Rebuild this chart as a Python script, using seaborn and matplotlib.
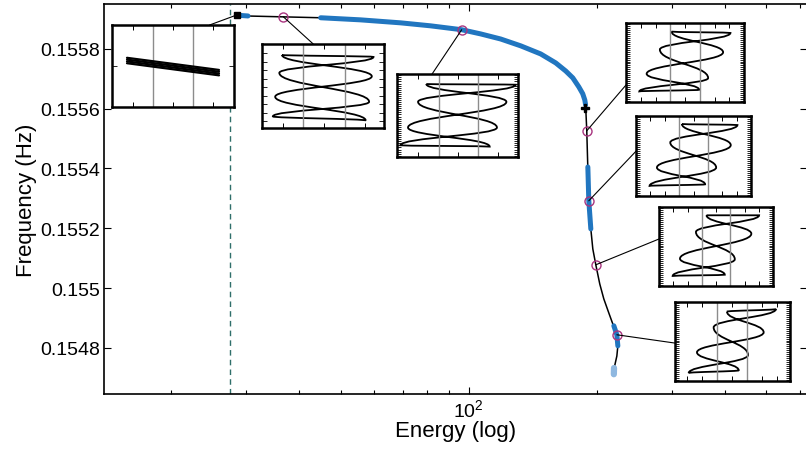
import numpy as np
import pandas as pd
import seaborn as sns
import matplotlib.pyplot as plt
from matplotlib.path import Path
from matplotlib.patches import PathPatch, ConnectionPatch
from matplotlib.ticker import LogLocator, FixedLocator, FixedFormatter, NullFormatter

# backbone branch (energy, frequency)
energy = [28.6, 30.0, 36.7, 44.9, 55.7, 69.2, 81.4, 96.3, 106.7, 118.9, 132.6, 147.7,
          160.2, 169.1, 175.7, 181.5, 185.4, 187.5, 188.5, 189.5, 190.6, 191.6, 193.7,
          195.8, 199.0, 203.3, 207.8, 213.5, 218.2, 223.0, 224.2, 223.0, 220.6, 219.4]
freq = [0.155914, 0.155910, 0.155907, 0.155904, 0.155897, 0.155887, 0.155877, 0.155864,
        0.155850, 0.155833, 0.155810, 0.155783, 0.155753, 0.155726, 0.155703, 0.155673,
        0.155650, 0.155629, 0.155599, 0.155526, 0.155399, 0.155292, 0.155198, 0.155131,
        0.155078, 0.155014, 0.154964, 0.154917, 0.154880, 0.154844, 0.154807, 0.154773,
        0.154743, 0.154720]

# stable pieces (thick blue)
stab1_E = [28.9, 30.3]
stab1_f = [0.155912, 0.155910]
stab2_E = [44.9, 55.7, 69.2, 81.4, 96.3, 106.7, 118.9, 132.6, 147.7, 160.2, 169.1,
           175.7, 181.5, 185.4, 187.5, 188.3]
stab2_f = [0.155904, 0.155897, 0.155887, 0.155877, 0.155864, 0.155850, 0.155833,
           0.155810, 0.155783, 0.155753, 0.155726, 0.155703, 0.155673, 0.155650,
           0.155629, 0.155613]
stab3_E = [190.6, 191.6, 193.7]
stab3_f = [0.155405, 0.155292, 0.155198]
stab4_E = [219.4, 223.0, 224.2]
stab4_f = [0.154874, 0.154844, 0.154807]
end_E = [219.6, 219.4]
end_f = [0.154733, 0.154712]

start_pt = (28.6, 0.155914)
bif_pt = (187.5, 0.155603)
dash_E = 27.5

# marked solutions shown in the insets
mark_E = [36.7, 96.3, 189.5, 191.6, 199.0, 223.0]
mark_f = [0.155907, 0.155864, 0.155526, 0.155292, 0.155078, 0.154844]

ytick_vals = [0.1548, 0.155, 0.1552, 0.1554, 0.1556, 0.1558]
ytick_labels = ['0.1548', '0.155', '0.1552', '0.1554', '0.1556', '0.1558']

# inset orbit turning points (normalised inset coords), in path order
orb2_u = [0.164, 0.914, 0.142, 0.878, 0.089, 0.850, 0.108, 0.900]
orb2_v = [0.870, 0.846, 0.656, 0.312, 0.138, 0.089, 0.372, 0.615]
orb3_u = [0.242, 0.981, 0.174, 0.826, 0.028, 0.766, 0.091, 0.904]
orb3_v = [0.879, 0.871, 0.665, 0.355, 0.141, 0.125, 0.355, 0.665]
orb4_u = [0.386, 0.885, 0.287, 0.696, 0.113, 0.620, 0.175, 0.823]
orb4_v = [0.891, 0.874, 0.664, 0.303, 0.134, 0.155, 0.357, 0.630]
orb5_u = [0.399, 0.882, 0.298, 0.697, 0.118, 0.601, 0.182, 0.824]
orb5_v = [0.900, 0.887, 0.669, 0.356, 0.126, 0.146, 0.356, 0.636]
orb6_u = [0.417, 0.878, 0.324, 0.665, 0.120, 0.577, 0.184, 0.810]
orb6_v = [0.895, 0.895, 0.684, 0.338, 0.127, 0.143, 0.346, 0.662]
orb7_u = [0.452, 0.878, 0.336, 0.635, 0.119, 0.554, 0.191, 0.771]
orb7_v = [0.878, 0.911, 0.679, 0.329, 0.101, 0.135, 0.363, 0.616]

# first inset: nearly linear orbit, a thin band of lines
band_u = [0.123, 0.877]
band_v0 = [0.600, 0.578, 0.556, 0.534]
band_v1 = [0.452, 0.430, 0.408, 0.386]

BLUE = '#2176c0'
MAG = '#a8347f'

sns.set_style('ticks')
plt.rcParams['font.family'] = ['Liberation Sans', 'DejaVu Sans']
plt.rcParams.update({'text.color': 'black', 'axes.labelcolor': 'black',
                     'xtick.color': 'black', 'ytick.color': 'black',
                     'axes.edgecolor': 'black'})

W, H = 806, 452
fig = plt.figure(figsize=(W / 100, H / 100), dpi=100)
ax = fig.add_axes([104 / W, 57 / H, 703 / W, 390 / H])

df = pd.DataFrame({'E': energy, 'f': freq})
sns.lineplot(data=df, x='E', y='f', sort=False, estimator=None, color='black', lw=1.1, ax=ax)
for xe, yf in [(stab1_E, stab1_f), (stab2_E, stab2_f), (stab3_E, stab3_f), (stab4_E, stab4_f)]:
    sns.lineplot(x=xe, y=yf, sort=False, estimator=None, color=BLUE, lw=3.6, ax=ax)
ax.plot(end_E, end_f, color='#8fb8e0', lw=4.5, solid_capstyle='round')
ax.plot(*start_pt, marker='s', color='black', ms=4)
ax.plot(*bif_pt, marker='P', color='black', ms=6, mec='black')
ax.plot(mark_E, mark_f, ls='none', marker='o', ms=6.5, mfc='none', mec=MAG, mew=1.0)
ax.axvline(dash_E, color='#2f6f6a', lw=1.0, ls=(0, (4, 3)))

ax.set_xscale('log')
ax.set_xlim(13.9, 624)
ax.set_ylim(0.154646, 0.15595)
ax.xaxis.set_major_locator(LogLocator(base=10, numticks=10))
ax.xaxis.set_minor_locator(LogLocator(base=10, subs=np.arange(2, 10), numticks=20))
ax.xaxis.set_minor_formatter(NullFormatter())
ax.yaxis.set_major_locator(FixedLocator(ytick_vals))
ax.yaxis.set_major_formatter(FixedFormatter(ytick_labels))
ax.tick_params(which='both', direction='in', top=True, right=True, width=0.8, labelsize=14, pad=3)
ax.tick_params(which='major', length=5)
ax.tick_params(which='minor', length=3)
for s in ax.spines.values():
    s.set_linewidth(1.2)
ax.set_xlabel('Energy (log)', fontsize=16, labelpad=0)
ax.set_ylabel('Frequency (Hz)', fontsize=16, labelpad=2)

# inset boxes in pixels: (x0, y0, x1, y1), anchor of connector on the box
boxes = [(112, 26, 234, 108), (262, 45, 384, 129), (397, 75, 518, 158), (626, 24, 744, 103),
         (636, 117, 751, 197), (659, 208, 773, 287), (675, 303, 790, 382)]
anchors = [(0.80, 1.0), (0.42, 1.0), (0.29, 1.0), (0.0, 0.215), (0.0, 0.56), (0.0, 0.595), (0.0, 0.48)]
targets = [start_pt] + list(zip(mark_E, mark_f))
orbits = [None, (orb2_u, orb2_v), (orb3_u, orb3_v), (orb4_u, orb4_v),
          (orb5_u, orb5_v), (orb6_u, orb6_v), (orb7_u, orb7_v)]
grey_lines = [(0.336, 0.664), (0.339, 0.678), (0.344, 0.669), (0.372, 0.625),
              (0.376, 0.624), (0.379, 0.627), (0.365, 0.626)]
wide_ticks = [0.125, 0.25, 0.375, 0.5, 0.625, 0.75, 0.875]
top_ticks = [[0.172, 0.5, 0.828], [0.172, 0.511, 0.844], [0.174, 0.344, 0.504, 0.669, 0.835],
             wide_ticks, wide_ticks, wide_ticks, [0.104, 0.235, 0.365, 0.496, 0.626, 0.757, 0.887]]
side_ticks = [[0.5], list(np.arange(0.082, 0.95, 0.101)), None, None, None, None, None]


def orbit_patch(us, vs, k=0.44):
    pts = list(zip(us, vs))
    verts = [pts[0]]
    codes = [Path.MOVETO]
    for i in range(len(pts)):
        x0, y0 = pts[i]
        x1, y1 = pts[(i + 1) % len(pts)]
        dy = y1 - y0
        verts += [(x0, y0 + k * dy), (x1, y1 - k * dy), (x1, y1)]
        codes += [Path.CURVE4] * 3
    return PathPatch(Path(verts, codes), fill=False, ec='black', lw=1.3)


for i, (x0, y0, x1, y1) in enumerate(boxes):
    ins = fig.add_axes([x0 / W, (H - y1) / H, (x1 - x0) / W, (y1 - y0) / H])
    ins.set_facecolor('white')
    ins.set_xlim(0, 1)
    ins.set_ylim(0, 1)
    for g in grey_lines[i]:
        ins.axvline(g, color='#8c8c8c', lw=1.0)
    if orbits[i] is None:
        for v0, v1 in zip(band_v0, band_v1):
            ins.plot(band_u, [v0, v1], color='black', lw=1.6)
    else:
        ins.add_patch(orbit_patch(*orbits[i]))
    ins.set_xticks(top_ticks[i])
    st = side_ticks[i] if side_ticks[i] is not None else list(np.linspace(0.015, 0.985, 40))
    ins.set_yticks(st)
    ins.set_xticklabels([])
    ins.set_yticklabels([])
    tl = 3.5 if side_ticks[i] is not None else 3.0
    ins.tick_params(axis='y', direction='in', left=True, right=True, length=tl, width=0.6)
    ins.tick_params(axis='x', direction='in', top=True, bottom=True, length=3.5, width=0.7)
    for s in ins.spines.values():
        s.set_linewidth(1.8)
    con = ConnectionPatch(xyA=targets[i], coordsA=ax.transData, xyB=anchors[i],
                          coordsB=ins.transAxes, color='black', lw=0.8)
    fig.add_artist(con)

fig.savefig('out.png', dpi=100)
